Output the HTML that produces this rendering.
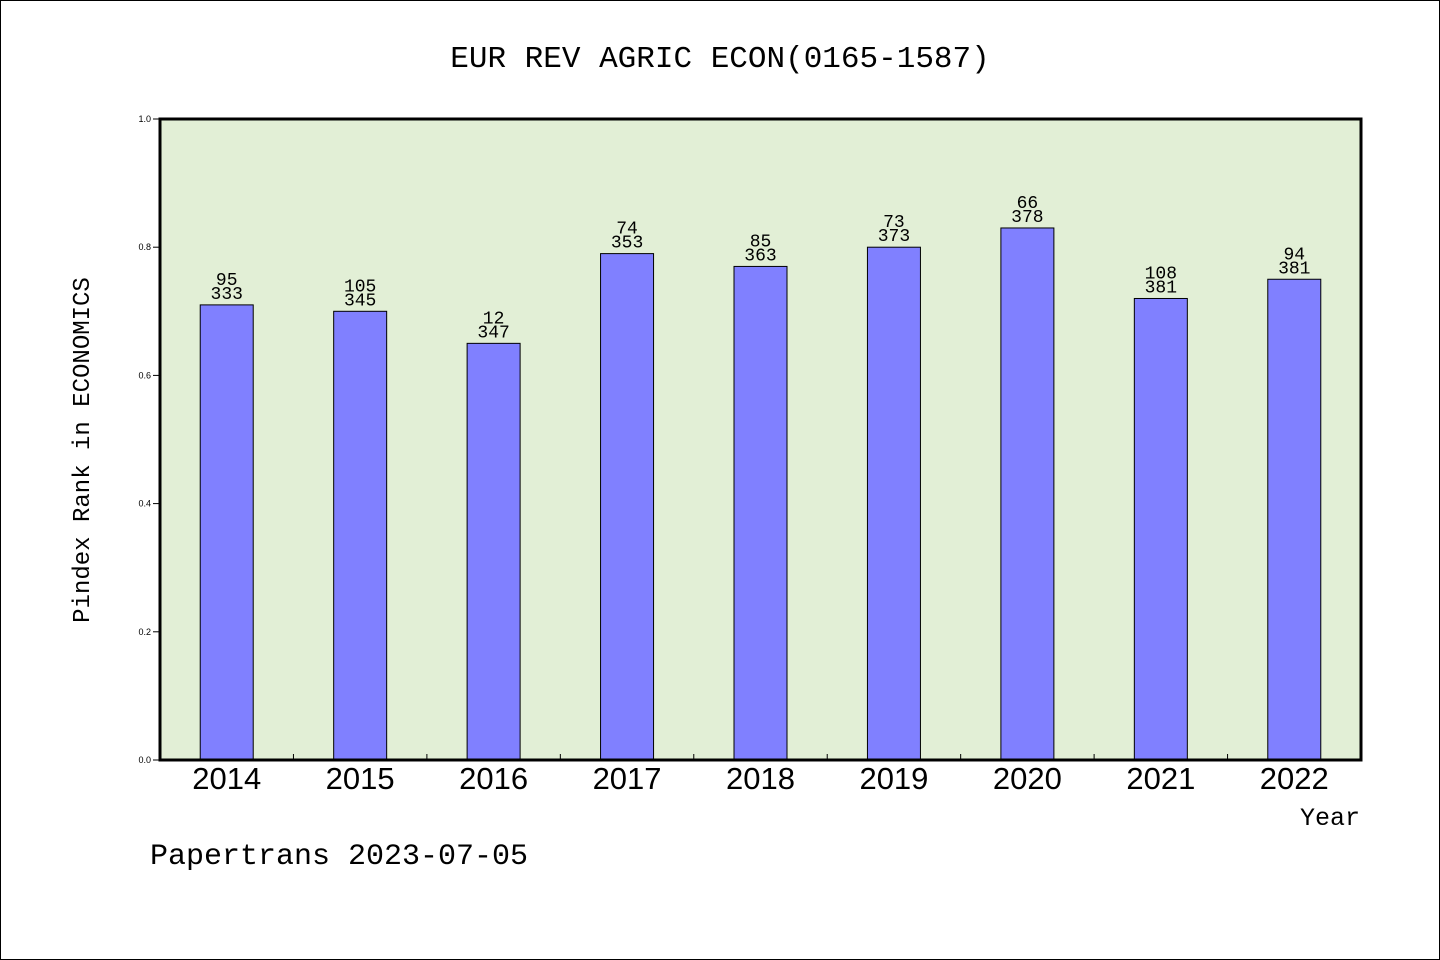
<!DOCTYPE html>
<html><head><meta charset="utf-8"><style>
body{margin:0;background:#fff}
svg{display:block}
</style></head><body>
<svg id="c" width="1440" height="960" xmlns="http://www.w3.org/2000/svg">
<rect x="0.5" y="0.5" width="1439" height="959" fill="#fff" stroke="#000"/>
<text x="720" y="67" text-anchor="middle" font-family="'WenQuanYi Zen Hei','Liberation Mono',monospace" font-size="31">EUR REV AGRIC ECON(0165-1587)</text>
<rect x="160" y="119" width="1201" height="641" fill="#e2efd6"/>
<g id="bars"></g>
<rect x="160" y="119" width="1201" height="641" fill="none" stroke="#000" stroke-width="3"/>
<text transform="translate(89,450) rotate(-90)" text-anchor="middle" font-family="'WenQuanYi Zen Hei','Liberation Mono',monospace" font-size="24">Pindex Rank in ECONOMICS</text>
<text x="1360" y="825" text-anchor="end" font-family="'WenQuanYi Zen Hei','Liberation Mono',monospace" font-size="25">Year</text>
<text x="150" y="864" font-family="'WenQuanYi Zen Hei','Liberation Mono',monospace" font-size="30">Papertrans 2023-07-05</text>
</svg>
<script>
const categories=["2014","2015","2016","2017","2018","2019","2020","2021","2022"];
const values=[0.71,0.70,0.65,0.79,0.77,0.80,0.83,0.72,0.75];
const ranks=["95","105","12","74","85","73","66","108","94"];
const totals=["333","345","347","353","363","373","378","381","381"];
const yTicks=[0,0.2,0.4,0.6,0.8,1.0];
const NS="http://www.w3.org/2000/svg";
const X0=160,X1=1361,Y0=760,Y1=119;
const bw=(X1-X0)/categories.length;
const y=v=>Y0-(v)*(Y0-Y1);
const xc=i=>X0+bw*(i+0.5);
const svg=document.getElementById('c'),g=document.getElementById('bars');
function mk(t,a,p){const e=document.createElementNS(NS,t);for(const k in a)e.setAttribute(k,a[k]);(p||svg).appendChild(e);return e;}
categories.forEach((c,i)=>{
  const r=mk('rect',{x:xc(i)-26.5,y:y(values[i]),width:53,height:Y0-y(values[i]),fill:'#8080ff',stroke:'#000','stroke-width':1},g);
  
  
  const t1=mk('text',{x:xc(i),y:y(values[i])-20,'text-anchor':'middle','font-family':"'WenQuanYi Zen Hei','Liberation Mono',monospace",'font-size':18},g);
  t1.textContent=ranks[i];
  
  
  const t2=mk('text',{x:xc(i),y:y(values[i])-6,'text-anchor':'middle','font-family':"'WenQuanYi Zen Hei','Liberation Mono',monospace",'font-size':18},g);
  t2.textContent=totals[i];
  
  
  const xl=mk('text',{x:xc(i),y:789,'text-anchor':'middle','font-family':"'Liberation Sans',sans-serif",'font-size':31});
  xl.textContent=c;
  
  
  if(i>0){const tk=mk('line',{x1:X0+bw*i,x2:X0+bw*i,y1:Y0,y2:Y0-6,stroke:'#000'});
  
  }
});
yTicks.forEach(v=>{
  const tk=mk('line',{x1:X0-7,x2:X0,y1:y(v),y2:y(v),stroke:'#000'});
  
  
  const t=mk('text',{x:151,y:y(v)+3,'text-anchor':'end','font-family':"'Liberation Sans',sans-serif",'font-size':9});
  t.textContent=v.toFixed(1);
  
  
});
</script>
</body></html>
